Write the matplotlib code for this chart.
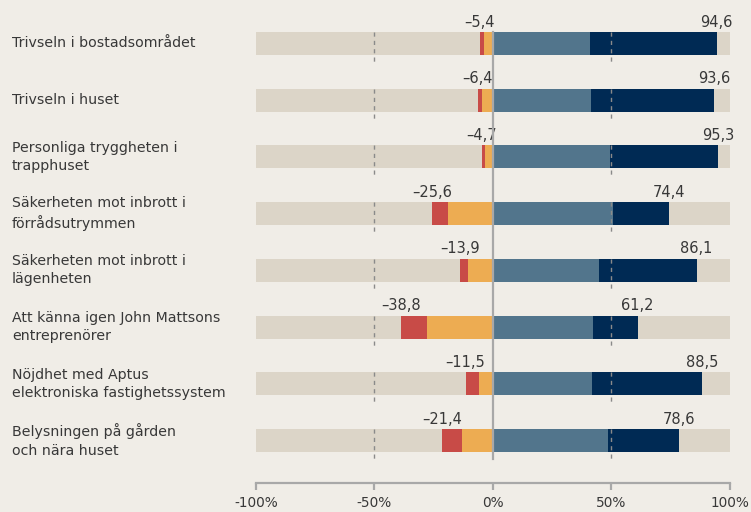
import matplotlib
matplotlib.use("Agg")
import matplotlib.pyplot as plt
import matplotlib.transforms as mtransforms
import numpy as np

categories = [
    "Trivseln i bostadsområdet",
    "Trivseln i huset",
    "Personliga tryggheten i\ntrapphuset",
    "Säkerheten mot inbrott i\nförrådsutrymmen",
    "Säkerheten mot inbrott i\nlägenheten",
    "Att känna igen John Mattsons\nentreprenörer",
    "Nöjdhet med Aptus\nelektroniska fastighetssystem",
    "Belysningen på gården\noch nära huset",
]
neg_red = [1.5, 2.0, 1.3, 6.7, 3.4, 11.1, 5.7, 8.5]
neg_orange = [3.9, 4.4, 3.4, 18.9, 10.5, 27.7, 5.8, 12.9]
pos_light = [41.0, 41.4, 49.4, 50.7, 44.9, 42.4, 41.9, 48.8]
pos_dark = [53.6, 52.2, 45.9, 23.7, 41.2, 18.8, 46.6, 29.8]
xticks = [-100, -50, 0, 50, 100]
xtick_labels = ["-100%", "-50%", "0%", "50%", "100%"]

BG = "#f0ede7"
BEIGE = "#dcd5c8"
RED = "#c84b47"
ORANGE = "#edac52"
LIGHT = "#52758c"
DARK = "#002a54"
TXT = "#383838"

plt.rcParams["font.family"] = ["DejaVu Sans"]

fig = plt.figure(figsize=(7.51, 5.12), dpi=100, facecolor=BG)
ax = fig.add_axes([256 / 751, 0, 473.5 / 751, 1])
ax.set_facecolor("none")

n = len(categories)
y = np.arange(n)
h = 0.4056
red = np.array(neg_red)
orange = np.array(neg_orange)
light = np.array(pos_light)
dark = np.array(pos_dark)

ax.barh(y, 200, left=-100, height=h, color=BEIGE, zorder=1)
ax.barh(y, -orange, left=0, height=h, color=ORANGE, zorder=2)
ax.barh(y, -red, left=-orange, height=h, color=RED, zorder=2)
ax.barh(y, light, left=0, height=h, color=LIGHT, zorder=2)
ax.barh(y, dark, left=light, height=h, color=DARK, zorder=2)

# dashed guides per row
for yi in y:
    for xv in (-50, 50):
        ax.plot([xv, xv], [yi - h / 2, yi + h / 2 + 0.125], color="#8a8a8a",
                lw=1, ls=(0, (3, 3)), zorder=3)

ax.plot([0, 0], [-h / 2, n - 1 + h / 2 + 0.125], color="#a8a8a8", lw=1.6, zorder=4)

# value labels
for yi, r, o, l, d in zip(y, red, orange, light, dark):
    neg = r + o
    pos = l + d
    ax.text(-neg, yi - h / 2 - 0.095, "\u2013" + f"{neg:.1f}".replace(".", ","),
            ha="center", va="baseline", fontsize=10.5, color=TXT)
    ax.text(pos, yi - h / 2 - 0.095, f"{pos:.1f}".replace(".", ","),
            ha="center", va="baseline", fontsize=10.5, color=TXT)

# category labels
trans = mtransforms.blended_transform_factory(fig.transFigure, ax.transData)
for yi, c in zip(y, categories):
    ax.text(12 / 751, yi, c, transform=trans, ha="left", va="center",
            fontsize=10.2, color=TXT, linespacing=1.38)

ax.set_xlim(-100, 100)
ax.set_ylim((512 - 43.5) / 56.71, -43.5 / 56.71)

for s in ["top", "right", "left"]:
    ax.spines[s].set_visible(False)
ax.spines["bottom"].set_position(("data", 7.75))
ax.spines["bottom"].set_color("#a8a8a8")
ax.spines["bottom"].set_linewidth(1.6)
ax.set_yticks([])
ax.set_xticks(xticks)
ax.set_xticklabels(xtick_labels)
ax.tick_params(axis="x", direction="out", length=5, width=1.6, color="#a8a8a8",
               labelsize=9.8, labelcolor=TXT, pad=4)

fig.savefig("out.png", dpi=100, facecolor=BG)
